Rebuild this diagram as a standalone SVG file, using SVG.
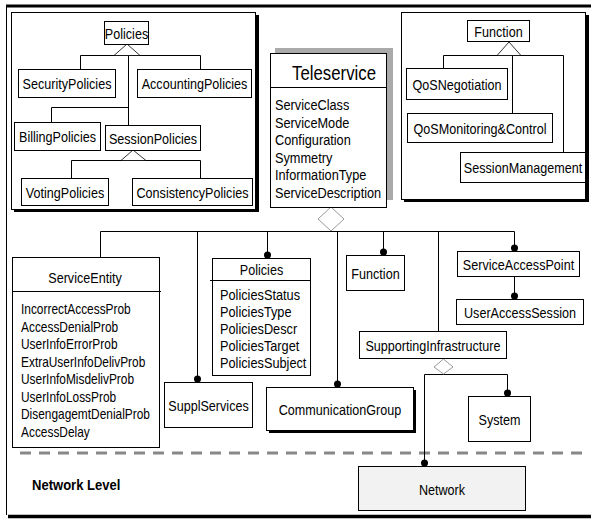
<svg xmlns="http://www.w3.org/2000/svg" width="591" height="519" viewBox="0 0 591 519">
<style>
text{font-family:"Liberation Sans",Arial,sans-serif;fill:#000}
.l{font-size:15px;text-anchor:middle}
.a{font-size:15px}
.s{font-size:14px}
.t{font-size:21px;text-anchor:middle}
.b{fill:#fff;stroke:#000;stroke-width:1}
.sh{fill:#000}
.c{fill:none;stroke:#000;stroke-width:1}
.tri{fill:#fff;stroke:#000;stroke-width:0.8}
.dia{fill:#fff;stroke:#999;stroke-width:1}
</style>
<rect width="591" height="519" fill="#fff"/>
<g id="frame">
<line x1="6" y1="6" x2="591" y2="6" stroke="#000" stroke-width="3"/>
<line x1="6.5" y1="6" x2="6.5" y2="515" stroke="#000" stroke-width="1"/>
<line x1="8" y1="516.5" x2="591" y2="516.5" stroke="#000" stroke-width="3.5"/>
<line x1="20" y1="453" x2="586" y2="453" stroke="#888" stroke-width="3" stroke-dasharray="11 8"/>
<text transform="translate(32,490) scale(.87,1)" style="font-size:15px;font-weight:bold">Network Level</text>
</g>
<g id="policies-frame">
<rect class="sh" x="14" y="15" width="245" height="197"/>
<rect class="b" x="11.5" y="12.5" width="244" height="197"/>
</g>
<g id="function-frame">
<rect class="sh" x="404" y="15" width="185" height="187"/>
<rect class="b" x="401.5" y="12.5" width="184" height="187"/>
</g>
<g id="connectors">
<path class="c" d="M80.5 69V55.5H200.5V69M128.5 55.5V125M51.5 122V107.5H128.5"/>
<path class="c" d="M71.5 178V160.5H200.5V178"/>
<polygon class="tri" points="127,44 114,55.5 140,55.5"/>
<polygon class="tri" points="133,150 121,160.5 146,160.5"/>
<path class="c" d="M443.5 68V55.5H563.5V152M512.5 55.5V113"/>
<polygon class="tri" points="509,42 497,55.5 521,55.5"/>
<path class="c" d="M100.5 257V231.5H514.5V248M197.5 231.5V379M267.5 231.5V255M337.5 231.5V384M383.5 231.5V252M438.5 231.5V331M514.5 276V296"/>
<path class="c" d="M424.5 463V374.5H507.5V393"/>
<polygon class="dia" points="331,207 344,219 331,231 318,219"/>
<polygon class="dia" points="443.5,359 453,367 443.5,374 434,367"/>
<g fill="#000">
<circle cx="197.5" cy="379" r="3.5"/>
<circle cx="267.5" cy="255" r="3.5"/>
<circle cx="337.5" cy="384" r="3.5"/>
<circle cx="383.5" cy="252" r="3.5"/>
<circle cx="514.5" cy="248" r="3.5"/>
<circle cx="514.5" cy="296" r="3.5"/>
<circle cx="507.5" cy="393" r="3.5"/>
<circle cx="424.5" cy="463" r="3.5"/>
</g>
</g>
<g id="policies-top"><rect class="b" x="104.5" y="21.5" width="44" height="23"/><text class="l" transform="translate(126.5,38.5) scale(.84,1)">Policies</text></g>
<g id="security-policies"><rect class="b" x="18.5" y="69.5" width="97" height="28"/><text class="l" transform="translate(67,89) scale(.84,1)">SecurityPolicies</text></g>
<g id="accounting-policies"><rect class="b" x="137.5" y="69.5" width="114" height="28"/><text class="l" transform="translate(194.5,89) scale(.84,1)">AccountingPolicies</text></g>
<g id="billing-policies"><rect class="b" x="14.5" y="122.5" width="86" height="28"/><text class="l" transform="translate(57.5,142) scale(.84,1)">BillingPolicies</text></g>
<g id="session-policies"><rect class="b" x="105.5" y="125.5" width="95" height="25"/><text class="l" transform="translate(153,143.5) scale(.84,1)">SessionPolicies</text></g>
<g id="voting-policies"><rect class="b" x="21.5" y="178.5" width="87" height="27"/><text class="l" transform="translate(65,197.5) scale(.84,1)">VotingPolicies</text></g>
<g id="consistency-policies"><rect class="b" x="132.5" y="178.5" width="120" height="27"/><text class="l" transform="translate(192.5,197.5) scale(.84,1)">ConsistencyPolicies</text></g>
<g id="teleservice">
<rect x="275" y="48" width="118" height="152" fill="#aaa"/>
<rect class="b" x="270.5" y="53.5" width="116" height="154"/>
<line class="c" x1="270" y1="87.5" x2="387" y2="87.5"/>
<text class="t" transform="translate(334,80) scale(.8,1)">Teleservice</text>
<text class="a" transform="translate(275,110) scale(.85,1)">ServiceClass</text>
<text class="a" transform="translate(275,127.5) scale(.85,1)">ServiceMode</text>
<text class="a" transform="translate(275,145) scale(.85,1)">Configuration</text>
<text class="a" transform="translate(275,162.5) scale(.85,1)">Symmetry</text>
<text class="a" transform="translate(275,180) scale(.85,1)">InformationType</text>
<text class="a" transform="translate(275,197.5) scale(.85,1)">ServiceDescription</text>
</g>
<g id="function-top"><rect class="b" x="467.5" y="20.5" width="62" height="21"/><text class="l" transform="translate(498.5,36.5) scale(.84,1)">Function</text></g>
<g id="qos-negotiation"><rect class="b" x="406.5" y="68.5" width="101" height="31"/><text class="l" transform="translate(457,89.5) scale(.84,1)">QoSNegotiation</text></g>
<g id="qos-monitoring"><rect class="b" x="407.5" y="113.5" width="145" height="29"/><text class="l" transform="translate(480,133.5) scale(.84,1)">QoSMonitoring&amp;Control</text></g>
<g id="session-management"><rect class="b" x="460.5" y="152.5" width="125" height="30"/><text class="l" transform="translate(523,173) scale(.84,1)">SessionManagement</text></g>
<g id="service-entity">
<rect class="b" x="12.5" y="257.5" width="147" height="190"/>
<line class="c" x1="12" y1="291.5" x2="161" y2="291.5"/>
<text class="l" transform="translate(85,283) scale(.84,1)">ServiceEntity</text>
<text class="s" transform="translate(21,314) scale(.85,1)">IncorrectAccessProb</text>
<text class="s" transform="translate(21,331.5) scale(.85,1)">AccessDenialProb</text>
<text class="s" transform="translate(21,349) scale(.85,1)">UserInfoErrorProb</text>
<text class="s" transform="translate(21,366.5) scale(.85,1)">ExtraUserInfoDelivProb</text>
<text class="s" transform="translate(21,384) scale(.85,1)">UserInfoMisdelivProb</text>
<text class="s" transform="translate(21,401.5) scale(.85,1)">UserInfoLossProb</text>
<text class="s" transform="translate(21,419) scale(.85,1)">DisengagemtDenialProb</text>
<text class="s" transform="translate(21,436.5) scale(.85,1)">AccessDelay</text>
</g>
<g id="policies-class">
<rect class="b" x="212.5" y="258.5" width="98" height="117"/>
<line class="c" x1="210" y1="280.5" x2="311" y2="280.5"/>
<text class="l" transform="translate(261.5,275) scale(.84,1)">Policies</text>
<text class="a" transform="translate(220,300) scale(.85,1)">PoliciesStatus</text>
<text class="a" transform="translate(220,317) scale(.85,1)">PoliciesType</text>
<text class="a" transform="translate(220,334) scale(.85,1)">PoliciesDescr</text>
<text class="a" transform="translate(220,351) scale(.85,1)">PoliciesTarget</text>
<text class="a" transform="translate(220,367.5) scale(.85,1)">PoliciesSubject</text>
</g>
<g id="suppl-services"><rect class="b" x="164.5" y="382.5" width="88" height="45"/><text class="l" transform="translate(208.5,410.5) scale(.84,1)">SupplServices</text></g>
<g id="communication-group"><rect class="sh" x="269" y="390" width="147" height="43"/><rect class="b" x="266.5" y="387.5" width="147" height="43"/><text class="l" transform="translate(340,414.5) scale(.84,1)">CommunicationGroup</text></g>
<g id="function"><rect class="b" x="346.5" y="255.5" width="58" height="35"/><text class="l" transform="translate(375.5,278.5) scale(.84,1)">Function</text></g>
<g id="service-access-point"><rect class="b" x="457.5" y="251.5" width="122" height="25"/><text class="l" transform="translate(518.5,269.5) scale(.84,1)">ServiceAccessPoint</text></g>
<g id="user-access-session"><rect class="b" x="456.5" y="299.5" width="127" height="25"/><text class="l" transform="translate(520,317.5) scale(.84,1)">UserAccessSession</text></g>
<g id="supporting-infrastructure"><rect class="b" x="359.5" y="331.5" width="147" height="27"/><text class="l" transform="translate(433,350.5) scale(.84,1)">SupportingInfrastructure</text></g>
<g id="system"><rect class="b" x="468.5" y="396.5" width="62" height="45"/><text class="l" transform="translate(499.5,424.5) scale(.84,1)">System</text></g>
<g id="network"><rect x="358.5" y="466.5" width="167" height="44" fill="#f2f2f2" stroke="#000"/><text class="l" transform="translate(442,494.5) scale(.84,1)">Network</text></g>
</svg>
